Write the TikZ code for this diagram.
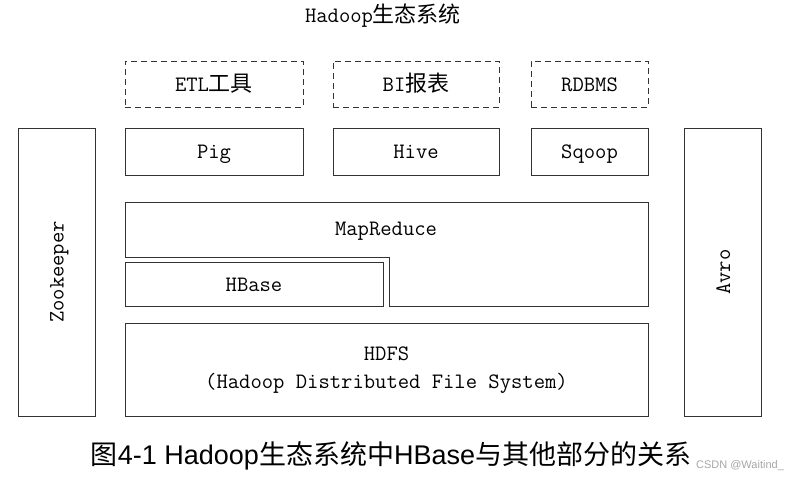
\documentclass[tikz,border=0pt]{standalone}
\usepackage{fontspec}
\setmainfont{Liberation Sans}
\newfontfamily\cjk{Noto Sans CJK SC}
\usepackage{tikz}
\usetikzlibrary{positioning}
\newcommand{\zh}[1]{{\cjk #1}}

\begin{document}
\begin{tikzpicture}[x=1pt, y=-1pt,
  blk/.style    = {draw=black!80, line width=0.8pt, inner sep=0pt,
                   font=\ttfamily\fontsize{22}{28}\selectfont},
  one/.style    = {blk, text height=17pt, text depth=3pt},
  tool/.style   = {one, dash pattern=on 6pt off 4pt},
  side/.style   = {one, rotate=90, minimum width=288pt, minimum height=77pt},
  figcap/.style = {font=\fontsize{27}{32}\selectfont},
  wmark/.style  = {font=\fontsize{11}{13}\selectfont, text=black!35}]
\useasboundingbox (0,0) rectangle (789,479);

% --- title ------------------------------------------------------------
\node[one, draw=none] (title) at (383,16) {Hadoop\zh{生态系统}};

% --- outside tools ----------------------------------------------------
\node[tool, minimum width=178pt, minimum height=46pt] (etl)  at (214,84)   {ETL\zh{工具}};
\node[tool, minimum width=166pt, minimum height=46pt] (bi)   at (416,84)   {BI\zh{报表}};
\node[tool, minimum width=117pt, minimum height=46pt] (rdb)  at (589.5,84) {RDBMS};

% --- upper layer ------------------------------------------------------
\node[one, minimum width=178pt, minimum height=47pt] (pig)   at (214,151.5)   {Pig};
\node[one, minimum width=166pt, minimum height=47pt] (hive)  at (416,151.5)   {Hive};
\node[one, minimum width=117pt, minimum height=47pt] (sqoop) at (589.5,151.5) {Sqoop};

% --- side columns -----------------------------------------------------
\node[side] (zk)   at (56.5,272) {Zookeeper};
\node[side] (avro) at (723,272)  {Avro};

% --- core -------------------------------------------------------------
\draw[blk] (125,202) -- (648,202) -- (648,306) -- (389,306)
           -- (389,257) -- (125,257) -- cycle;
\node[one, draw=none] (mr) at (386,228) {MapReduce};
\node[one, minimum width=258pt, minimum height=44pt] (hbase) at (254,284) {HBase};
\node[blk, minimum width=523pt, minimum height=93pt, align=center] (hdfs)
      at (386.5,370) {HDFS\\(Hadoop Distributed File System)};

% --- caption ----------------------------------------------------------
\node[figcap] (caption) at (391,456)
      {\zh{图}4-1 Hadoop\zh{生态系统中}HBase\zh{与其他部分的关系}};
\node[wmark] (wm) at (740,466) {CSDN @Waitind\_};
\end{tikzpicture}
\end{document}
